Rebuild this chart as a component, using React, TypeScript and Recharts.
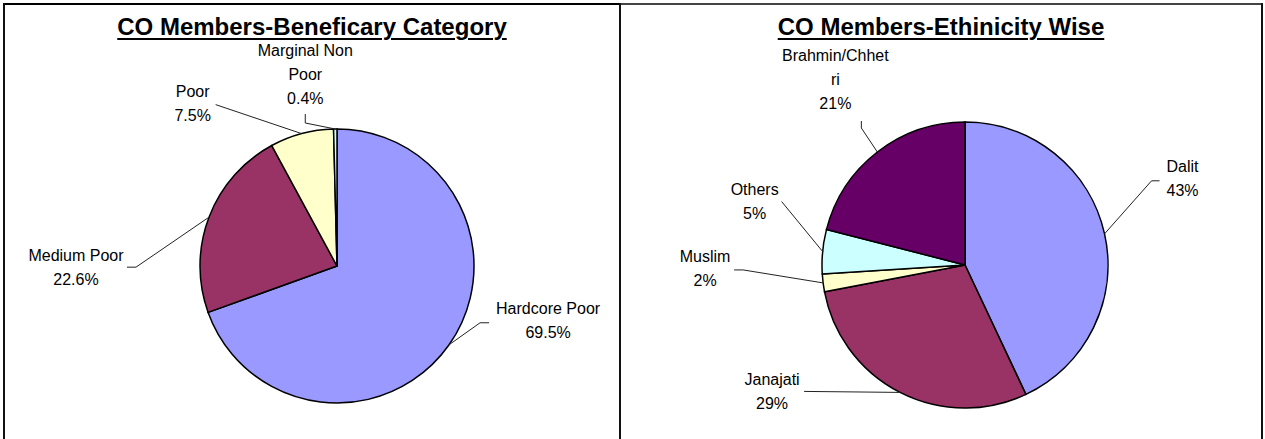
import React from "react";
import { PieChart, Pie, Cell } from "recharts";

const beneficiaryCategories = ["Hardcore Poor", "Medium Poor", "Poor", "Marginal Non\nPoor"];
const beneficiaryShares = [69.5, 22.6, 7.5, 0.4];

const ethnicityCategories = ["Dalit", "Janajati", "Muslim", "Others", "Brahmin/Chhet\nri"];
const ethnicityShares = [43, 29, 2, 5, 21];

const sliceColors = ["#9999FF", "#993366", "#FFFFCC", "#CCFFFF", "#660066"];

// where each label sits, measured from the slice's rim point:
// t = text centre, e = elbow of the leader, l = end of the leader
const beneficiarySpots = [
  { tx: 99, ty: -24, ex: 31, ey: -22, lx: 40, ly: -22 },
  { tx: -133, ty: 50, ex: -73, ey: 50, lx: -82, ly: 50 },
  { tx: -109, ty: -30, ex: -86, ey: -29, lx: -86, ly: -29 },
  { tx: -30, ty: -55, ex: -30, ey: -6, lx: -30, ly: -15 },
];
const ethnicitySpots = [
  { tx: 78, ty: -56, ex: 47, ey: -53, lx: 55, ly: -53 },
  { tx: -128, ty: -1, ex: -96, ey: -1, lx: -96, ly: -1 },
  { tx: -118, ty: -15, ex: -80, ey: -13, lx: -89, ly: -13 },
  { tx: -68, ty: -50, ex: -41, ey: -50, lx: -41, ly: -50 },
  { tx: -42, ty: -73, ex: -16, ey: -24, lx: -16, ly: -31 },
];

const font = "'Liberation Sans', Arial, sans-serif";
const RAD = Math.PI / 180;
const noMargin = { top: 0, right: 0, bottom: 0, left: 0 };

const makeLabel = (spots, decimals) => (props) => {
  const { cx, cy, midAngle, outerRadius, percent, index, name } = props;
  const px = cx + outerRadius * Math.cos(-midAngle * RAD);
  const py = cy + outerRadius * Math.sin(-midAngle * RAD);
  const s = spots[index];
  const lines = [...String(name).split("\n"), `${(percent * 100).toFixed(decimals)}%`];
  const lh = 24;
  const top = py + s.ty - ((lines.length - 1) * lh) / 2;
  return (
    <g>
      <polyline
        points={`${px},${py} ${px + s.ex},${py + s.ey} ${px + s.lx},${py + s.ly}`}
        fill="none"
        stroke="#222"
        strokeWidth={1}
      />
      <text textAnchor="middle" fontFamily={font} fontSize={16} fill="#000">
        {lines.map((l, i) => (
          <tspan key={i} x={px + s.tx} y={top + i * lh + 5.7}>
            {l}
          </tspan>
        ))}
      </text>
    </g>
  );
};

const beneficiaryData = beneficiaryCategories.map((name, i) => ({ name, value: beneficiaryShares[i] }));
const ethnicityData = ethnicityCategories.map((name, i) => ({ name, value: ethnicityShares[i] }));

const titleStyle: React.CSSProperties = {
  position: "absolute",
  top: 12,
  fontFamily: font,
  fontWeight: "bold",
  fontSize: 24,
  lineHeight: "30px",
  textAlign: "center",
  textDecoration: "underline",
  textDecorationThickness: "2px",
  textUnderlineOffset: "3px",
  color: "#000",
  whiteSpace: "nowrap",
};

const line = (x, y, w, h, c = "#111"): React.CSSProperties => ({
  position: "absolute",
  left: x,
  top: y,
  width: w,
  height: h,
  background: c,
});

export default function App() {
  return (
    <div style={{ position: "relative", width: 1265, height: 439, background: "#fff", overflow: "hidden" }}>
      <style>{`body{margin:0}`}</style>
      <div style={line(3, 3, 618, 2, "#000")} />
      <div style={line(621, 3, 641, 2, "#444")} />
      <div style={line(3, 3, 2, 436, "#111")} />
      <div style={line(619, 3, 2, 436, "#111")} />
      <div style={line(1261, 3, 2, 436, "#111")} />

      <div style={{ ...titleStyle, left: 5, width: 614 }}>CO Members-Beneficary Category</div>
      <div style={{ ...titleStyle, left: 621, width: 640 }}>CO Members-Ethinicity Wise</div>

      <div style={{ position: "absolute", left: 0, top: 0 }}>
        <PieChart width={620} height={439} margin={noMargin}>
          <Pie
            data={beneficiaryData}
            dataKey="value"
            nameKey="name"
            cx={337}
            cy={266}
            outerRadius={137}
            startAngle={90}
            endAngle={-270}
            stroke="#000"
            strokeWidth={1.5}
            labelLine={false}
            label={makeLabel(beneficiarySpots, 1)}
            isAnimationActive={false}
          >
            {beneficiaryData.map((d, i) => (
              <Cell key={d.name} fill={sliceColors[i]} />
            ))}
          </Pie>
        </PieChart>
      </div>

      <div style={{ position: "absolute", left: 620, top: 0 }}>
        <PieChart width={645} height={439} margin={noMargin}>
          <Pie
            data={ethnicityData}
            dataKey="value"
            nameKey="name"
            cx={345}
            cy={265}
            outerRadius={143}
            startAngle={90}
            endAngle={-270}
            stroke="#000"
            strokeWidth={1.5}
            labelLine={false}
            label={makeLabel(ethnicitySpots, 0)}
            isAnimationActive={false}
          >
            {ethnicityData.map((d, i) => (
              <Cell key={d.name} fill={sliceColors[i]} />
            ))}
          </Pie>
        </PieChart>
      </div>
    </div>
  );
}
